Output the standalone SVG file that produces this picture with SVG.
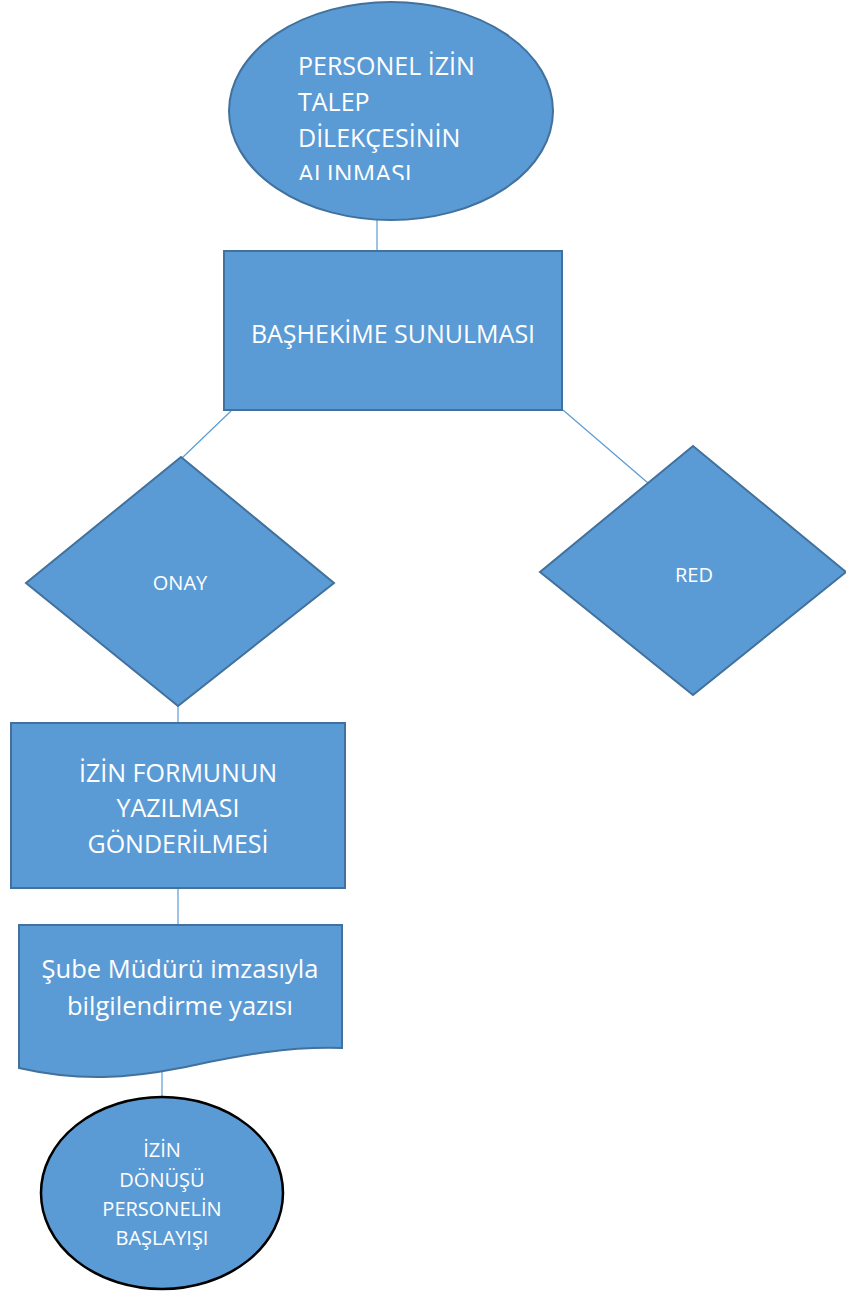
<svg xmlns="http://www.w3.org/2000/svg" width="846" height="1291" viewBox="0 0 846 1291">
  <style>
    .shape { fill: #5B9BD5; stroke: #41719C; stroke-width: 2; }
    .end { fill: #5B9BD5; stroke: #000000; stroke-width: 2.5; }
    .link { stroke: #5B9BD5; stroke-width: 1.2; fill: none; }
    text { font-family: "Open Sans", "Liberation Sans", sans-serif; fill: #FFFFFF; }
    .big { font-size: 25px; }
    .mid { font-size: 20px; }
    .doc { font-size: 25.5px; }
    .small { font-size: 20px; }
  </style>
  <defs>
    <clipPath id="startClip">
      <rect x="230" y="0" width="330" height="180"/>
    </clipPath>
  </defs>

  <!-- connectors -->
  <g id="connectors">
    <line class="link" x1="377" y1="220" x2="377" y2="251"/>
    <line class="link" x1="231" y1="411" x2="182" y2="458"/>
    <line class="link" x1="563" y1="410" x2="648" y2="483"/>
    <line class="link" x1="178" y1="705" x2="178" y2="723"/>
    <line class="link" x1="178" y1="888" x2="178" y2="925"/>
    <line class="link" x1="162" y1="1070" x2="162" y2="1097"/>
  </g>

  <!-- start: leave request -->
  <g id="start">
    <ellipse class="shape" cx="391" cy="111" rx="162" ry="109"/>
    <g clip-path="url(#startClip)">
      <text class="big" x="298" y="75">PERSONEL İZİN</text>
      <text class="big" x="298" y="111">TALEP</text>
      <text class="big" x="298" y="147">DİLEKÇESİNİN</text>
      <text class="big" x="298" y="183">ALINMASI</text>
    </g>
  </g>

  <!-- submission to chief physician -->
  <g id="submit">
    <rect class="shape" x="224" y="251" width="338" height="159"/>
    <text class="big" x="393" y="343" text-anchor="middle">BAŞHEKİME SUNULMASI</text>
  </g>

  <!-- approval decision -->
  <g id="approve">
    <polygon class="shape" points="181,457 334,583 178,706 26,583"/>
    <text class="mid" x="180" y="590" text-anchor="middle">ONAY</text>
  </g>

  <!-- rejection decision -->
  <g id="reject">
    <polygon class="shape" points="693,446 846,572 693,695 540,572"/>
    <text class="mid" x="694" y="582" text-anchor="middle">RED</text>
  </g>

  <!-- leave form -->
  <g id="form">
    <rect class="shape" x="11" y="723" width="334" height="165"/>
    <text class="big" x="178" y="782" text-anchor="middle">İZİN FORMUNUN</text>
    <text class="big" x="178" y="817" text-anchor="middle">YAZILMASI</text>
    <text class="big" x="178" y="853" text-anchor="middle">GÖNDERİLMESİ</text>
  </g>

  <!-- notification letter -->
  <g id="letter">
    <path class="shape" d="M19,925 H342 V1048 C280,1046 230,1058 180,1068 C130,1078 80,1082 19,1068 Z"/>
    <text class="doc" x="180" y="978" text-anchor="middle">Şube Müdürü imzasıyla</text>
    <text class="doc" x="180" y="1015" text-anchor="middle">bilgilendirme yazısı</text>
  </g>

  <!-- end: return from leave -->
  <g id="finish">
    <ellipse class="end" cx="162" cy="1193" rx="121" ry="96"/>
    <text class="small" x="162" y="1157" text-anchor="middle">İZİN</text>
    <text class="small" x="162" y="1187" text-anchor="middle">DÖNÜŞÜ</text>
    <text class="small" x="162" y="1216" text-anchor="middle">PERSONELİN</text>
    <text class="small" x="162" y="1245" text-anchor="middle">BAŞLAYIŞI</text>
  </g>
</svg>
